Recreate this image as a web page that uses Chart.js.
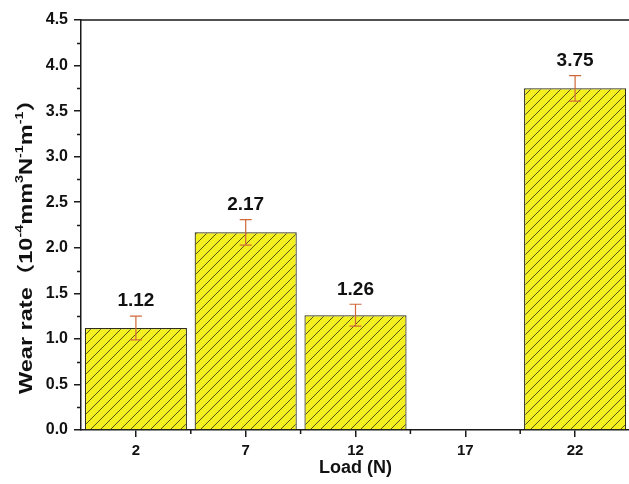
<!DOCTYPE html>
<html>
<head>
<meta charset="utf-8">
<script src="https://cdn.jsdelivr.net/npm/chart.js@4/dist/chart.umd.min.js"></script>
<style>
html,body{margin:0;padding:0;background:#fff;overflow:hidden;}
#wrap{width:640px;height:484px;}
</style>
</head>
<body>
<div id="wrap"><canvas id="c" width="640" height="484"></canvas></div>
<script>
const categories = ['2', '7', '12', '17', '22'];
const wearRate = [1.12, 2.17, 1.26, null, 3.75];
const wearError = [0.13, 0.14, 0.12, null, 0.14];
const valueLabels = ['1.12', '2.17', '1.26', '', '3.75'];
const yMin = 0, yMax = 4.5, yStep = 0.5, yMinorStep = 0.25;

const FONT = '"Liberation Sans", Arial, Helvetica, sans-serif';
const AXIS_COLOR = '#1a1a1a';

function hatchPattern() {
  const s = 10;
  const c = document.createElement('canvas');
  c.width = s; c.height = s;
  const g = c.getContext('2d');
  g.fillStyle = '#f4f020';
  g.fillRect(0, 0, s, s);
  g.strokeStyle = '#47441a';
  g.lineWidth = 0.9;
  g.beginPath();
  g.moveTo(-1, s + 1); g.lineTo(s + 1, -1);
  g.moveTo(-1, 1); g.lineTo(1, -1);
  g.moveTo(s - 1, s + 1); g.lineTo(s + 1, s - 1);
  g.stroke();
  return g.createPattern(c, 'repeat');
}

const extras = {
  id: 'extras',
  afterDatasetsDraw(chart) {
    const ctx = chart.ctx;
    const x = chart.scales.x, y = chart.scales.y;
    ctx.save();
    wearRate.forEach((v, i) => {
      if (v == null) return;
      const cx = x.getPixelForValue(i);
      const e = wearError[i];
      const yt = y.getPixelForValue(v + e), yb = y.getPixelForValue(v - e);
      ctx.strokeStyle = '#d0683a';
      ctx.lineWidth = 1.2;
      ctx.beginPath();
      ctx.moveTo(cx, yt); ctx.lineTo(cx, yb);
      ctx.moveTo(cx - 6, yt); ctx.lineTo(cx + 6, yt);
      ctx.moveTo(cx - 6, yb); ctx.lineTo(cx + 6, yb);
      ctx.stroke();
      ctx.fillStyle = '#111';
      ctx.font = 'bold 19px ' + FONT;
      ctx.textAlign = 'center';
      ctx.textBaseline = 'middle';
      ctx.fillText(valueLabels[i], cx, yt - 15);
    });
    ctx.restore();
  },
  afterDraw(chart) {
    const ctx = chart.ctx;
    const a = chart.chartArea;
    const x = chart.scales.x, y = chart.scales.y;
    ctx.save();
    ctx.strokeStyle = AXIS_COLOR;
    ctx.lineWidth = 1.5;
    ctx.beginPath();
    ctx.moveTo(a.left, a.top); ctx.lineTo(a.right, a.top);
    for (let v = yMin + yMinorStep; v < yMax; v += yStep) {
      const py = Math.round(y.getPixelForValue(v)) + 0.5;
      ctx.moveTo(a.left, py); ctx.lineTo(a.left - 4, py);
    }
    for (let i = 0; i < categories.length - 1; i++) {
      const px = (x.getPixelForValue(i) + x.getPixelForValue(i + 1)) / 2;
      ctx.moveTo(px, a.bottom); ctx.lineTo(px, a.bottom + 4);
    }
    ctx.stroke();

    const parts = [
      ['Wear rate', false], ['\uFF08', false], ['10', false], ['-4', true],
      ['mm', false], ['3', true], ['N', false], ['-1', true],
      ['m', false], ['-1', true], ['\uFF09', false]
    ];
    const big = 'bold 18px ' + FONT + ', "Noto Sans CJK SC"';
    const small = 'bold 11px ' + FONT;
    let total = 0;
    parts.forEach(p => { ctx.font = p[1] ? small : big; total += ctx.measureText(p[0]).width; });
    const targetLen = 306;
    const sx = targetLen / total;
    ctx.translate(27, 241);
    ctx.rotate(-Math.PI / 2);
    ctx.scale(sx, 1);
    ctx.fillStyle = '#111';
    ctx.textBaseline = 'middle';
    ctx.textAlign = 'left';
    let cur = -total / 2;
    parts.forEach(p => {
      ctx.font = p[1] ? small : big;
      ctx.fillText(p[0], cur, p[1] ? -7 : 0);
      cur += ctx.measureText(p[0]).width;
    });
    ctx.restore();
  }
};

new Chart(document.getElementById('c'), {
  type: 'bar',
  data: {
    labels: categories,
    datasets: [{
      data: wearRate,
      backgroundColor: hatchPattern(),
      borderColor: '#2e2e1a',
      borderWidth: 1.2,
      barPercentage: 0.93,
      categoryPercentage: 1.0
    }]
  },
  options: {
    responsive: false,
    animation: false,
    devicePixelRatio: 1,
    layout: { padding: { left: 0, top: 20, right: 10, bottom: 0 } },
    plugins: { legend: { display: false }, tooltip: { enabled: false } },
    scales: {
      x: {
        grid: { display: true, drawOnChartArea: false, drawTicks: true, tickLength: 7, offset: false, color: AXIS_COLOR, lineWidth: 1.5 },
        border: { display: true, color: AXIS_COLOR, width: 1.5 },
        ticks: { color: '#111', font: { family: FONT, size: 15, weight: 'bold' }, padding: 5 },
        title: { display: true, text: 'Load (N)', color: '#111', font: { family: FONT, size: 18, weight: 'bold' }, padding: { top: 0, bottom: 5 } },
        afterFit(s) { s.height = 54; }
      },
      y: {
        min: yMin, max: yMax,
        grid: { display: true, drawOnChartArea: false, drawTicks: true, tickLength: 7, color: AXIS_COLOR, lineWidth: 1.5 },
        border: { display: true, color: AXIS_COLOR, width: 1.5 },
        ticks: { stepSize: yStep, color: '#111', font: { family: FONT, size: 16, weight: 'bold' }, padding: 6,
          callback: v => Number(v).toFixed(1) },
        afterFit(s) { s.width = 81; }
      }
    }
  },
  plugins: [extras]
});
</script>
</body>
</html>
